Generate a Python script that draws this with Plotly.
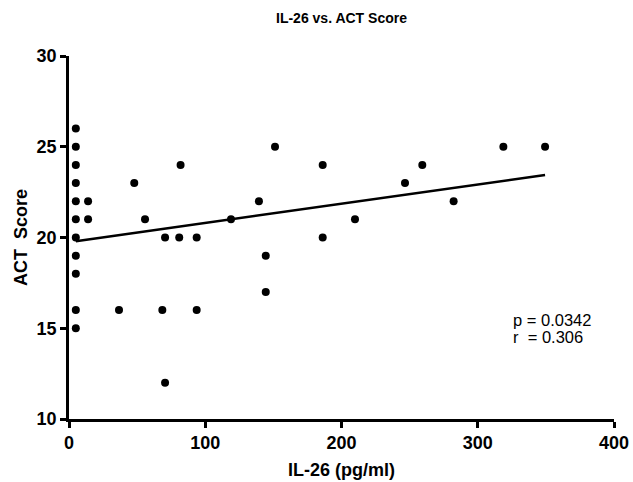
import numpy as np
import plotly.graph_objects as go

il26 = [5, 5, 5, 5, 5, 5, 5, 5, 5, 5, 5, 14, 14,
        36.7, 47.9, 55.8, 68.5, 70.5, 70.5, 80.9, 81.9, 93.7, 93.7,
        118.9, 139.4, 144.4, 144.4, 151.2, 186.2, 186.2, 209.9,
        246.6, 259.3, 282.3, 318.8, 349.4]
act = [26, 25, 24, 23, 22, 21, 20, 19, 18, 16, 15, 22, 21,
       16, 23, 21, 16, 20, 12, 20, 24, 20, 16,
       21, 22, 19, 17, 25, 24, 20, 21,
       23, 24, 22, 25, 25]

x_ticks = [0, 100, 200, 300, 400]
y_ticks = [10, 15, 20, 25, 30]
x_ticklabels = ["0", "100", "200", "300", "400"]
y_ticklabels = ["10", "15", "20", "25", "30"]
stats_lines = ["p = 0.0342", "r\u00a0 = 0.306"]

slope, intercept = np.polyfit(il26, act, 1)
xl = np.array([min(il26), max(il26)])
yl = slope * xl + intercept

FONT = "Liberation Sans, Arial, Helvetica, sans-serif"
L, R, T, B = 69, 614, 56, 419
W, H = 633, 482

fig = go.Figure()
fig.add_trace(go.Scatter(x=xl, y=yl, mode="lines",
                         line=dict(color="black", width=2.5),
                         showlegend=False, hoverinfo="skip"))
fig.add_trace(go.Scatter(x=il26, y=act, mode="markers",
                         marker=dict(color="black", size=8),
                         showlegend=False))

tickfont = dict(size=18, family=FONT, color="black")
titlefont = dict(size=18, family=FONT, color="black", weight="bold")

fig.update_layout(
    width=W, height=H,
    margin=dict(l=L, r=W - R, t=T, b=H - B),
    plot_bgcolor="white", paper_bgcolor="white",
    font=dict(family=FONT, color="black"),
    title=dict(text="IL-26 vs. ACT Score", x=(L + R) / 2 / W, xanchor="center",
               y=1 - 18 / H, yanchor="middle",
               font=dict(size=14, family=FONT, color="black", weight="bold")),
    xaxis=dict(range=[0, 400], tickvals=x_ticks,
               ticktext=[f"<b>{t}</b>" for t in x_ticklabels],
               showline=True, linecolor="black", linewidth=2.5, ticks="outside",
               ticklen=6, tickwidth=2.5, tickcolor="black", showgrid=False, zeroline=False,
               tickfont=tickfont, automargin=False,
               title=dict(text="IL-26 (pg/ml)", font=titlefont, standoff=12)),
    yaxis=dict(range=[10, 30], tickvals=y_ticks,
               ticktext=[f"<b>{t}</b>" for t in y_ticklabels],
               showline=True, linecolor="black", linewidth=2.5, ticks="outside",
               ticklen=6, tickwidth=2.5, tickcolor="black", showgrid=False, zeroline=False,
               tickfont=tickfont, automargin=False,
               title=dict(text="ACT\u00a0 Score", font=titlefont, standoff=5)),
)

for i, (txt, ypix) in enumerate(zip(stats_lines, [320, 337])):
    fig.add_annotation(text=txt, x=(511 - L) / (R - L), y=(B - ypix) / (B - T),
                       xref="paper", yref="paper", showarrow=False,
                       xanchor="left", yanchor="middle",
                       font=dict(size=16.5, family=FONT, color="black"))

fig.write_html("out.html")
